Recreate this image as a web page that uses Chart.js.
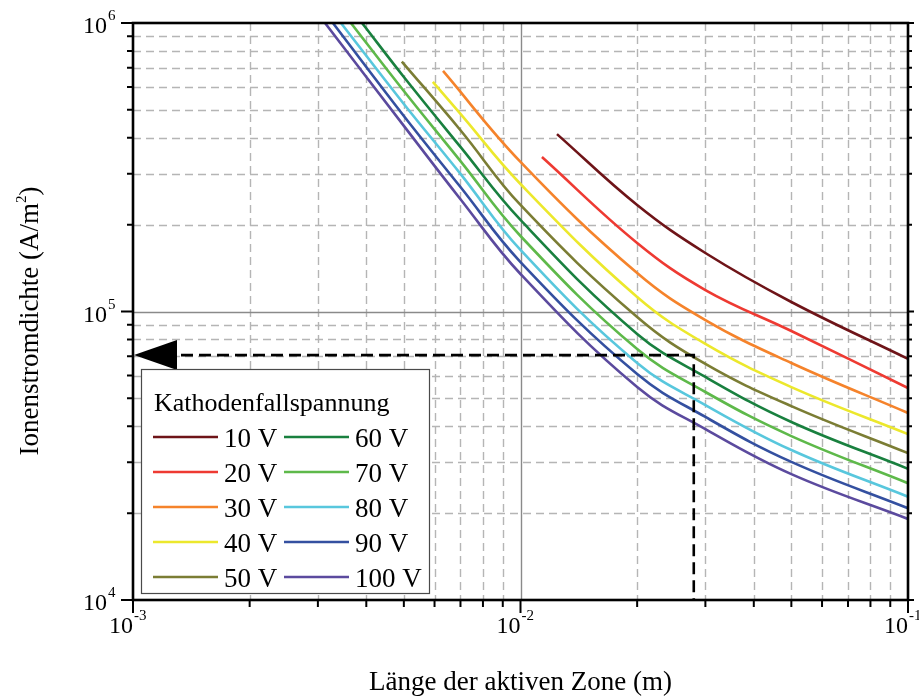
<!DOCTYPE html>
<html lang="de">
<head>
<meta charset="UTF-8">
<title>Ionenstromdichte</title>
<script src="https://cdn.jsdelivr.net/npm/chart.js"></script>
<style>
  html, body { margin: 0; padding: 0; background: #fff; }
</style>
</head>
<body>
<canvas id="chart" width="919" height="697"></canvas>
<script>
// Kathodenfallspannung -> Kurven (Länge in m, Stromdichte in A/m²)
const voltages = ['10 V', '20 V', '30 V', '40 V', '50 V', '60 V', '70 V', '80 V', '90 V', '100 V'];
const colors = ['#6e1418', '#ee3a32', '#f5832b', '#ece82c', '#7b7d34',
                '#19803f', '#5eb94a', '#58c7dd', '#3450a0', '#5b4a9e'];

const j10  = [[0.01242, 4.12e5], [0.02, 2.34e5], [0.03, 1.595e5], [0.05, 1.079e5], [0.1, 6.85e4]];
const j20  = [[0.01136, 3.43e5], [0.02, 1.728e5], [0.03, 1.187e5], [0.05, 8.56e4], [0.1, 5.43e4]];
const j30  = [[0.00631, 6.82e5], [0.01, 3.30e5], [0.02, 1.359e5], [0.03, 9.34e4], [0.05, 6.63e4], [0.1, 4.45e4]];
const j40  = [[0.00594, 6.25e5], [0.007, 4.84e5], [0.01, 2.766e5], [0.02, 1.123e5], [0.03, 7.72e4], [0.05, 5.47e4], [0.1, 3.76e4]];
const j50  = [[0.00494, 7.35e5], [0.007, 4.25e5], [0.01, 2.34e5], [0.02, 9.57e4], [0.03, 6.58e4], [0.05, 4.70e4], [0.1, 3.23e4]];
const j60  = [[0.0039, 1e6], [0.005, 6.5e5], [0.007, 3.72e5], [0.01, 2.076e5], [0.02, 8.36e4], [0.03, 5.93e4], [0.05, 4.14e4], [0.1, 2.85e4]];
const j70  = [[0.00365, 1e6], [0.005, 5.81e5], [0.007, 3.32e5], [0.01, 1.827e5], [0.02, 7.41e4], [0.03, 5.26e4], [0.05, 3.70e4], [0.1, 2.54e4]];
const j80  = [[0.00344, 1e6], [0.005, 5.24e5], [0.007, 3.00e5], [0.01, 1.634e5], [0.02, 6.63e4], [0.03, 4.74e4], [0.05, 3.31e4], [0.1, 2.28e4]];
const j90  = [[0.00328, 1e6], [0.005, 4.76e5], [0.007, 2.70e5], [0.01, 1.484e5], [0.02, 6.07e4], [0.03, 4.31e4], [0.05, 3.01e4], [0.1, 2.08e4]];
const j100 = [[0.00313, 1e6], [0.005, 4.40e5], [0.007, 2.45e5], [0.01, 1.349e5], [0.02, 5.47e4], [0.03, 3.91e4], [0.05, 2.73e4], [0.1, 1.91e4]];
const series = [j10, j20, j30, j40, j50, j60, j70, j80, j90, j100];

// Achsen und Ablesebeispiel
const xDecades = [-3, -2, -1];
const yDecades = [4, 5, 6];
const markLength = 0.028;
const markCurrent = 7.06e4;

const xTitle = 'Länge der aktiven Zone (m)';
const yTitle = 'Ionenstromdichte (A/m';
const legendTitle = 'Kathodenfallspannung';

const SERIF = '"Liberation Serif", "Times New Roman", serif';

const datasets = series.map((pts, i) => ({
  label: voltages[i],
  data: pts.map(p => ({ x: p[0], y: p[1] })),
  borderColor: colors[i],
  borderWidth: 2.6,
  pointRadius: 0,
  fill: false,
  tension: 0.4
}));

// 10 mit hochgestelltem Exponenten, Basis rechtsbündig bis x
function powLabel(ctx, x, y, exp) {
  ctx.font = '24px ' + SERIF;
  ctx.fillStyle = '#000';
  ctx.textBaseline = 'alphabetic';
  ctx.textAlign = 'right';
  ctx.fillText('10', x, y);
  ctx.font = '15px ' + SERIF;
  ctx.textAlign = 'left';
  ctx.fillText(exp, x + 1, y - 13);
}

const decor = {
  id: 'decor',
  beforeDraw(chart) {
    const ctx = chart.ctx;
    ctx.save();
    ctx.fillStyle = '#fff';
    ctx.fillRect(0, 0, chart.width, chart.height);
    ctx.restore();
  },
  beforeDatasetsDraw(chart) {
    const ctx = chart.ctx;
    const a = chart.chartArea;
    const sx = chart.scales.x, sy = chart.scales.y;
    ctx.save();
    ctx.lineWidth = 1.4;
    // Gitter
    for (let e = xDecades[0]; e < xDecades[xDecades.length - 1]; e++) {
      for (let m = 1; m <= 9; m++) {
        const v = m * Math.pow(10, e);
        if (m === 1 && e === xDecades[0]) continue;
        const x = Math.round(sx.getPixelForValue(v)) + 0.5;
        ctx.beginPath();
        if (m === 1) { ctx.setLineDash([]); ctx.strokeStyle = '#8a8a8a'; }
        else { ctx.setLineDash([8, 5]); ctx.strokeStyle = '#b5b5b5'; }
        ctx.moveTo(x, a.top);
        ctx.lineTo(x, a.bottom);
        ctx.stroke();
      }
    }
    for (let e = yDecades[0]; e < yDecades[yDecades.length - 1]; e++) {
      for (let m = 1; m <= 9; m++) {
        const v = m * Math.pow(10, e);
        if (m === 1 && e === yDecades[0]) continue;
        const y = Math.round(sy.getPixelForValue(v)) + 0.5;
        ctx.beginPath();
        if (m === 1) { ctx.setLineDash([]); ctx.strokeStyle = '#8a8a8a'; }
        else { ctx.setLineDash([8, 5]); ctx.strokeStyle = '#b5b5b5'; }
        ctx.moveTo(a.left, y);
        ctx.lineTo(a.right, y);
        ctx.stroke();
      }
    }
    ctx.restore();
  },
  afterDatasetsDraw(chart) {
    const ctx = chart.ctx;
    const a = chart.chartArea;
    const sx = chart.scales.x, sy = chart.scales.y;
    ctx.save();

    // Ablesebeispiel (gestrichelt + Pfeil)
    const mx = sx.getPixelForValue(markLength);
    const my = sy.getPixelForValue(markCurrent);
    ctx.strokeStyle = '#000';
    ctx.lineWidth = 2.6;
    ctx.setLineDash([12, 6]);
    ctx.beginPath();
    ctx.moveTo(a.left + 48, my);
    ctx.lineTo(mx, my);
    ctx.lineTo(mx, a.bottom);
    ctx.stroke();
    ctx.setLineDash([]);
    ctx.fillStyle = '#000';
    ctx.beginPath();
    ctx.moveTo(a.left + 1, my);
    ctx.lineTo(a.left + 44, my - 15);
    ctx.lineTo(a.left + 44, my + 15);
    ctx.closePath();
    ctx.fill();

    // Rahmen
    ctx.lineWidth = 2.6;
    ctx.strokeStyle = '#000';
    ctx.strokeRect(a.left, a.top, a.right - a.left, a.bottom - a.top);

    // Teilstriche
    ctx.lineWidth = 2;
    for (let e = yDecades[0]; e <= yDecades[yDecades.length - 1]; e++) {
      for (let m = 1; m <= 9; m++) {
        const v = m * Math.pow(10, e);
        if (v > Math.pow(10, yDecades[yDecades.length - 1])) break;
        const y = sy.getPixelForValue(v);
        const len = m === 1 ? 12 : 6;
        ctx.beginPath();
        ctx.moveTo(a.left - len, y); ctx.lineTo(a.left, y);
        ctx.moveTo(a.right, y); ctx.lineTo(a.right + (m === 1 ? 6 : 4), y);
        ctx.stroke();
      }
    }
    for (let e = xDecades[0]; e <= xDecades[xDecades.length - 1]; e++) {
      for (let m = 1; m <= 9; m++) {
        const v = m * Math.pow(10, e);
        if (v > Math.pow(10, xDecades[xDecades.length - 1]) * 1.0001) break;
        const x = sx.getPixelForValue(v);
        const len = m === 1 ? 13 : 7;
        ctx.beginPath();
        ctx.moveTo(x, a.bottom); ctx.lineTo(x, a.bottom + len);
        ctx.stroke();
      }
    }

    // Achsenbeschriftung
    yDecades.forEach(e => {
      const y = sy.getPixelForValue(Math.pow(10, e));
      powLabel(ctx, 107, y + 10, String(e));
    });
    xDecades.forEach(e => {
      const x = sx.getPixelForValue(Math.pow(10, e));
      powLabel(ctx, x, a.bottom + 33, String(e));
    });

    ctx.fillStyle = '#000';
    ctx.font = '27px ' + SERIF;
    ctx.textAlign = 'center';
    ctx.textBaseline = 'alphabetic';
    ctx.fillText(xTitle, (a.left + a.right) / 2, 690);

    // y-Titel, gedreht, mit hochgestellter 2
    ctx.save();
    ctx.translate(38, 321);
    ctx.rotate(-Math.PI / 2);
    ctx.font = '27px ' + SERIF;
    const w1 = ctx.measureText(yTitle).width;
    ctx.font = '15px ' + SERIF;
    const w2 = ctx.measureText('2').width;
    ctx.font = '27px ' + SERIF;
    const x0 = -(w1 + w2 + ctx.measureText(')').width) / 2;
    ctx.textAlign = 'left';
    ctx.fillText(yTitle, x0, 0);
    ctx.font = '15px ' + SERIF;
    ctx.fillText('2', x0 + w1, -12);
    ctx.font = '27px ' + SERIF;
    ctx.fillText(')', x0 + w1 + w2, 0);
    ctx.restore();

    // Legende
    const lx = 141, ly = 369, lw = 288, lh = 224;
    ctx.fillStyle = '#fff';
    ctx.fillRect(lx, ly, lw, lh);
    ctx.strokeStyle = '#4a4a4a';
    ctx.lineWidth = 1.2;
    ctx.strokeRect(lx + 0.5, ly + 0.5, lw, lh);
    ctx.fillStyle = '#000';
    ctx.font = '26px ' + SERIF;
    ctx.textAlign = 'left';
    ctx.fillText(legendTitle, 154, 411);
    chart.data.datasets.forEach((ds, i) => {
      const col = i < 5 ? 0 : 1;
      const row = i % 5;
      const y = 437 + row * 35;
      const x1 = col === 0 ? 153 : 284;
      ctx.strokeStyle = ds.borderColor;
      ctx.lineWidth = 2.6;
      ctx.beginPath();
      ctx.moveTo(x1, y);
      ctx.lineTo(x1 + 65, y);
      ctx.stroke();
      ctx.fillStyle = '#000';
      ctx.font = '27px ' + SERIF;
      ctx.fillText(ds.label, x1 + 71, y + 10);
    });

    ctx.restore();
  }
};

new Chart(document.getElementById('chart'), {
  type: 'line',
  data: { datasets: datasets },
  options: {
    responsive: false,
    animation: false,
    devicePixelRatio: 1,
    layout: { padding: { left: 0, top: 23, right: 11, bottom: 0 } },
    plugins: { legend: { display: false }, tooltip: { enabled: false } },
    scales: {
      x: {
        type: 'logarithmic',
        min: Math.pow(10, xDecades[0]),
        max: Math.pow(10, xDecades[xDecades.length - 1]),
        ticks: { display: false },
        grid: { display: false },
        border: { display: false },
        afterFit(s) { s.height = 97; }
      },
      y: {
        type: 'logarithmic',
        min: Math.pow(10, yDecades[0]),
        max: Math.pow(10, yDecades[yDecades.length - 1]),
        ticks: { display: false },
        grid: { display: false },
        border: { display: false },
        afterFit(s) { s.width = 133; }
      }
    }
  },
  plugins: [decor]
});
</script>
</body>
</html>
